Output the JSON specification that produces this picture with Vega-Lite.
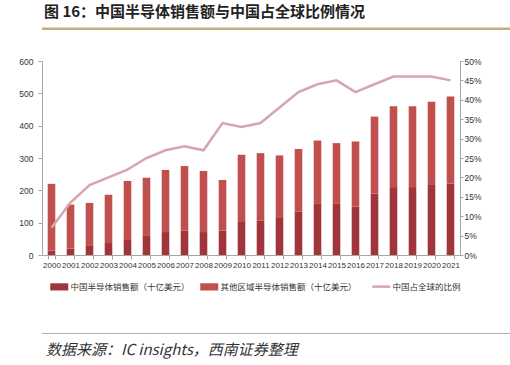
{
  "$schema": "https://vega.github.io/schema/vega-lite/v6.json",
  "padding": {"left": 3, "right": 5, "top": 5, "bottom": 2},
  "background": "white",
  "config": {
    "font": "Noto Sans CJK SC",
    "view": {"stroke": null},
    "axis": {
      "labelFont": "Liberation Sans",
      "labelFontSize": 8.5,
      "labelColor": "#333333",
      "domainColor": "#A6A6A6",
      "tickColor": "#A6A6A6",
      "grid": false,
      "title": null
    }
  },
  "datasets": {
    "bars": [
      {"year": 2000, "series": "中国半导体销售额（十亿美元）", "value": 14},
      {"year": 2000, "series": "其他区域半导体销售额（十亿美元）", "value": 206},
      {"year": 2001, "series": "中国半导体销售额（十亿美元）", "value": 20},
      {"year": 2001, "series": "其他区域半导体销售额（十亿美元）", "value": 136},
      {"year": 2002, "series": "中国半导体销售额（十亿美元）", "value": 28},
      {"year": 2002, "series": "其他区域半导体销售额（十亿美元）", "value": 133},
      {"year": 2003, "series": "中国半导体销售额（十亿美元）", "value": 37},
      {"year": 2003, "series": "其他区域半导体销售额（十亿美元）", "value": 149},
      {"year": 2004, "series": "中国半导体销售额（十亿美元）", "value": 49},
      {"year": 2004, "series": "其他区域半导体销售额（十亿美元）", "value": 180},
      {"year": 2005, "series": "中国半导体销售额（十亿美元）", "value": 59},
      {"year": 2005, "series": "其他区域半导体销售额（十亿美元）", "value": 180},
      {"year": 2006, "series": "中国半导体销售额（十亿美元）", "value": 71},
      {"year": 2006, "series": "其他区域半导体销售额（十亿美元）", "value": 192},
      {"year": 2007, "series": "中国半导体销售额（十亿美元）", "value": 76},
      {"year": 2007, "series": "其他区域半导体销售额（十亿美元）", "value": 199},
      {"year": 2008, "series": "中国半导体销售额（十亿美元）", "value": 71},
      {"year": 2008, "series": "其他区域半导体销售额（十亿美元）", "value": 189},
      {"year": 2009, "series": "中国半导体销售额（十亿美元）", "value": 76},
      {"year": 2009, "series": "其他区域半导体销售额（十亿美元）", "value": 156},
      {"year": 2010, "series": "中国半导体销售额（十亿美元）", "value": 102},
      {"year": 2010, "series": "其他区域半导体销售额（十亿美元）", "value": 208},
      {"year": 2011, "series": "中国半导体销售额（十亿美元）", "value": 107},
      {"year": 2011, "series": "其他区域半导体销售额（十亿美元）", "value": 208},
      {"year": 2012, "series": "中国半导体销售额（十亿美元）", "value": 117},
      {"year": 2012, "series": "其他区域半导体销售额（十亿美元）", "value": 191},
      {"year": 2013, "series": "中国半导体销售额（十亿美元）", "value": 134},
      {"year": 2013, "series": "其他区域半导体销售额（十亿美元）", "value": 194},
      {"year": 2014, "series": "中国半导体销售额（十亿美元）", "value": 158},
      {"year": 2014, "series": "其他区域半导体销售额（十亿美元）", "value": 196},
      {"year": 2015, "series": "中国半导体销售额（十亿美元）", "value": 158},
      {"year": 2015, "series": "其他区域半导体销售额（十亿美元）", "value": 188},
      {"year": 2016, "series": "中国半导体销售额（十亿美元）", "value": 150},
      {"year": 2016, "series": "其他区域半导体销售额（十亿美元）", "value": 201},
      {"year": 2017, "series": "中国半导体销售额（十亿美元）", "value": 190},
      {"year": 2017, "series": "其他区域半导体销售额（十亿美元）", "value": 238},
      {"year": 2018, "series": "中国半导体销售额（十亿美元）", "value": 210},
      {"year": 2018, "series": "其他区域半导体销售额（十亿美元）", "value": 250},
      {"year": 2019, "series": "中国半导体销售额（十亿美元）", "value": 210},
      {"year": 2019, "series": "其他区域半导体销售额（十亿美元）", "value": 250},
      {"year": 2020, "series": "中国半导体销售额（十亿美元）", "value": 219},
      {"year": 2020, "series": "其他区域半导体销售额（十亿美元）", "value": 255},
      {"year": 2021, "series": "中国半导体销售额（十亿美元）", "value": 220},
      {"year": 2021, "series": "其他区域半导体销售额（十亿美元）", "value": 270}
    ],
    "share": [
      {"year": 2000, "share": 0.07},
      {"year": 2001, "share": 0.135},
      {"year": 2002, "share": 0.18},
      {"year": 2003, "share": 0.2},
      {"year": 2004, "share": 0.22},
      {"year": 2005, "share": 0.25},
      {"year": 2006, "share": 0.27},
      {"year": 2007, "share": 0.28},
      {"year": 2008, "share": 0.27},
      {"year": 2009, "share": 0.34},
      {"year": 2010, "share": 0.33},
      {"year": 2011, "share": 0.34},
      {"year": 2012, "share": 0.38},
      {"year": 2013, "share": 0.42},
      {"year": 2014, "share": 0.44},
      {"year": 2015, "share": 0.45},
      {"year": 2016, "share": 0.42},
      {"year": 2017, "share": 0.44},
      {"year": 2018, "share": 0.46},
      {"year": 2019, "share": 0.46},
      {"year": 2020, "share": 0.46},
      {"year": 2021, "share": 0.45}
    ],
    "band": [{"lo": 0, "hi": 1}]
  },
  "align": "none",
  "spacing": 27,
  "resolve": {"scale": {"x": "independent", "y": "independent"}},
  "vconcat": [
    {
      "width": 497,
      "height": 10,
      "title": {
        "text": "图 16：中国半导体销售额与中国占全球比例情况",
        "anchor": "start",
        "orient": "top",
        "fontSize": 15,
        "fontWeight": "bold",
        "color": "#222222",
        "offset": 0,
        "dx": 2
      },
      "data": {"name": "band"},
      "mark": {"type": "rect", "fill": "#C4B07C"},
      "encoding": {
        "x": {"field": "lo", "type": "quantitative", "scale": {"domain": [0, 1]}, "axis": null},
        "x2": {"field": "hi"},
        "y": {"field": "lo", "type": "quantitative", "scale": {"domain": [0, 4], "zero": false, "nice": false}, "axis": null},
        "y2": {"field": "hi"}
      }
    },
    {
      "width": 418,
      "height": 194,
      "layer": [
        {
          "data": {"name": "bars"},
          "mark": {"type": "bar"},
          "encoding": {
            "x": {
              "field": "year",
              "type": "ordinal",
              "scale": {"paddingInner": 0.6, "paddingOuter": 0.3},
              "axis": {"labelAngle": 0, "tickBand": "extent", "tickSize": 4, "labelPadding": 2, "labelFontSize": 8, "minExtent": 51, "maxExtent": 51}
            },
            "y": {
              "field": "value",
              "type": "quantitative",
              "stack": "zero",
              "scale": {"domain": [0, 600]},
              "axis": {"orient": "left", "values": [0, 100, 200, 300, 400, 500, 600], "tickSize": 4, "labelPadding": 5, "minExtent": 39, "maxExtent": 39}
            },
            "order": {"field": "series", "type": "nominal", "sort": "ascending"},
            "color": {
              "field": "series",
              "type": "nominal",
              "scale": {
                "domain": ["中国半导体销售额（十亿美元）", "其他区域半导体销售额（十亿美元）", "中国占全球的比例"],
                "range": ["#A0363B", "#C0504D", "#D5A6AE"]
              },
              "legend": {
                "orient": "none",
                "legendX": 13,
                "legendY": 262,
                "direction": "horizontal",
                "title": null,
                "labelFontSize": 8.5,
                "labelColor": "#333333",
                "labelFont": "Noto Sans CJK SC",
                "columnPadding": 10,
                "labelOffset": 7,
                "symbolSize": 324,
                "encode": {
                  "symbols": {
                    "update": {
                      "shape": {"signal": "datum.value === '中国占全球的比例' ? 'M-1,0H1' : 'M-1,-0.4H1V0.4H-1Z'"},
                      "fill": {"signal": "datum.value === '中国占全球的比例' ? 'transparent' : scale('color', datum.value)"},
                      "stroke": {"signal": "datum.value === '中国占全球的比例' ? scale('color', datum.value) : 'transparent'"},
                      "strokeWidth": {"signal": "datum.value === '中国占全球的比例' ? 2.5 : 0"},
                      "opacity": {"value": 1}
                    }
                  }
                }
              }
            }
          }
        },
        {
          "data": {"name": "share"},
          "mark": {"type": "line", "strokeWidth": 2.5},
          "encoding": {
            "x": {"field": "year", "type": "ordinal"},
            "y": {
              "field": "share",
              "type": "quantitative",
              "scale": {"domain": [0, 0.5]},
              "axis": {"orient": "right", "format": ".0%", "values": [0, 0.05, 0.1, 0.15, 0.2, 0.25, 0.3, 0.35, 0.4, 0.45, 0.5], "tickSize": 3, "labelPadding": 1}
            },
            "color": {"datum": "中国占全球的比例", "type": "nominal"}
          }
        }
      ],
      "resolve": {"scale": {"y": "independent"}}
    },
    {
      "width": 497,
      "height": 10,
      "title": {
        "text": "数据来源：IC insights，西南证券整理",
        "anchor": "start",
        "orient": "bottom",
        "fontSize": 15,
        "fontWeight": "normal",
        "fontStyle": "italic",
        "color": "#333333",
        "offset": 0,
        "dx": 4
      },
      "data": {"name": "band"},
      "mark": {"type": "rect", "fill": "#B0B0B0"},
      "encoding": {
        "x": {"field": "lo", "type": "quantitative", "scale": {"domain": [0, 1]}, "axis": null},
        "x2": {"field": "hi"},
        "y": {"field": "lo", "type": "quantitative", "scale": {"domain": [-9, 1], "zero": false, "nice": false}, "axis": null},
        "y2": {"field": "hi"}
      }
    }
  ]
}
